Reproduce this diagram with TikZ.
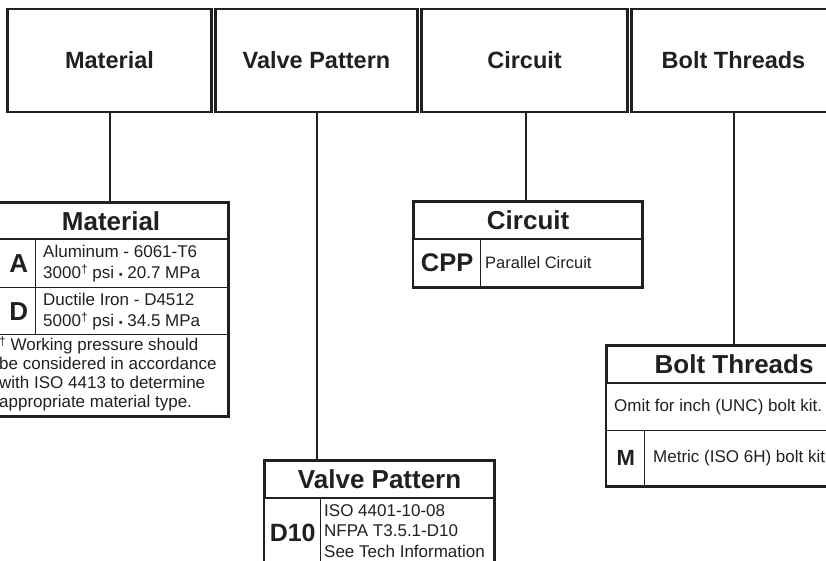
\documentclass[tikz,border=0pt]{standalone}
\usepackage{fontspec}
\setmainfont{Liberation Sans}
\definecolor{ink}{RGB}{35,31,32}
\newcommand\fsz[2]{\fontsize{#1}{#2}\selectfont}
\newcommand\sepdot{ {\fsz{11}{11}\raisebox{-0.5pt}{•}} }
\newcommand\mydagger{\raisebox{5pt}{\fsz{12}{12}†}}
\begin{document}
\begin{tikzpicture}[x=1pt,y=-1pt,
  topbox/.style={draw=ink, line width=2.3pt, minimum height=103pt, inner sep=0pt,
     text=ink, font=\bfseries\fsz{23.5}{28}},
  cell/.style={draw=ink, line width=1.4pt, inner sep=0pt, anchor=north west, text=ink},
  titlecell/.style={cell, line width=2.2pt, font=\bfseries\fsz{26}{30}},
  codecell/.style={cell, font=\bfseries\fsz{26}{28}},
  bodytext/.style={anchor=west, align=left, inner sep=0pt, text=ink, font=\fsz{17}{21}},
  conn/.style={draw=ink, line width=2pt},
  outline/.style={draw=ink, line width=2.6pt}]
\useasboundingbox (0,0) rectangle (826,560);
\clip (0,0) rectangle (826,560);

% top header boxes
\node[topbox, minimum width=204pt] (tMat) at (109.5,60.5) {Material};
\node[topbox, minimum width=202pt] (tVal) at (316.5,60.5) {Valve Pattern};
\node[topbox, minimum width=206pt] (tCir) at (524.5,60.5) {Circuit};
\node[topbox, minimum width=204pt] (tBolt) at (733.5,60.5) {Bolt Threads};

% Material table
\node[codecell, minimum width=42pt, minimum height=49pt] (matA) at (-7,238) {\hspace{8pt}A};
\node[cell, minimum width=192pt, minimum height=49pt] (matAc) at (35,238) {};
\node[bodytext] (matAt) at ([xshift=8pt]matAc.west) {Aluminum - 6061-T6\\3000\mydagger{} psi\sepdot 20.7 MPa};
\node[codecell, minimum width=42pt, minimum height=47pt] (matD) at (-7,287) {\hspace{8pt}D};
\node[cell, minimum width=192pt, minimum height=47pt] (matDc) at (35,287) {};
\node[bodytext] (matDt) at ([xshift=8pt]matDc.west) {Ductile Iron - D4512\\5000\mydagger{} psi\sepdot 34.5 MPa};
\node[cell, minimum width=234pt, minimum height=81pt] (matF) at (-7,334) {};
\node[bodytext, font=\fsz{17}{19}] (matFt) at ([xshift=6pt,yshift=1pt]matF.west) {\mydagger{} Working pressure should\\be considered in accordance\\with ISO 4413 to determine\\appropriate material type.};
\node[titlecell, minimum width=234pt, minimum height=36pt] (matT) at (-7,202) {Material};
\draw[outline] (matT.north west) rectangle (matF.south east);

% Circuit table
\node[codecell, font=\bfseries\fsz{25.5}{28}, minimum width=67pt, minimum height=48pt] (cirC) at (413,238) {CPP};
\node[cell, minimum width=161pt, minimum height=48pt] (cirPc) at (480,238) {};
\node[bodytext, font=\fsz{16.5}{20}] (cirPt) at ([xshift=5pt]cirPc.west) {Parallel Circuit};
\node[titlecell, minimum width=228pt, minimum height=37pt] (cirT) at (413,201) {Circuit};
\draw[outline] (cirT.north west) rectangle (cirPc.south east);

% Valve Pattern table
\node[codecell, font=\bfseries\fsz{25}{28}, minimum width=56pt, minimum height=70pt] (valD) at (264,497) {D10};
\node[cell, minimum width=173pt, minimum height=70pt] (valDc) at (320,497) {};
\node[bodytext, font=\fsz{17}{20.5}] (valDt) at ([xshift=4pt,yshift=2pt]valDc.west) {ISO 4401-10-08\\NFPA T3.5.1-D10\\See Tech Information};
\node[titlecell, minimum width=229pt, minimum height=37pt] (valT) at (264,460) {Valve Pattern};
\draw[outline] (valT.north west) rectangle (valDc.south east);

% Bolt Threads table
\node[cell, minimum width=254pt, minimum height=48pt] (boltO) at (606,382) {};
\node[bodytext] (boltOt) at ([xshift=8pt]boltO.west) {Omit for inch (UNC) bolt kit.};
\node[codecell, font=\bfseries\fsz{22}{26}, minimum width=38pt, minimum height=55pt] (boltM) at (606,430) {M};
\node[cell, minimum width=216pt, minimum height=55pt] (boltMc) at (644,430) {};
\node[bodytext] (boltMt) at ([xshift=9pt]boltMc.west) {Metric (ISO 6H) bolt kit};
\node[titlecell, minimum width=254pt, minimum height=37pt] (boltT) at (606,345) {Bolt Threads};
\draw[outline] (boltT.north west) rectangle (boltMc.south east);

% connectors
\draw[conn] (tMat.south) -- (tMat.south |- matT.north);
\draw[conn] (tVal.south) -- (tVal.south |- valT.north);
\draw[conn] ([xshift=1.5pt]tCir.south) -- ([xshift=1.5pt]tCir.south |- cirT.north);
\draw[conn] (tBolt.south) -- (tBolt.south |- boltT.north);
\end{tikzpicture}
\end{document}
